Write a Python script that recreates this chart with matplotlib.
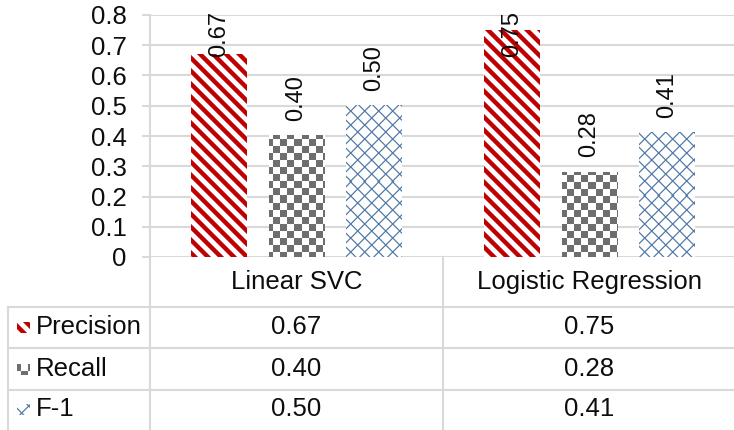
import numpy as np
import matplotlib
matplotlib.use("Agg")
import matplotlib.pyplot as plt
from matplotlib.lines import Line2D
from matplotlib.transforms import blended_transform_factory

# ---- data ----
models = ["Linear SVC", "Logistic Regression"]
metrics = ["Precision", "Recall", "F-1"]
precision = [0.67, 0.75]
recall = [0.40, 0.28]
f1 = [0.50, 0.41]
y_ticks = [0, 0.1, 0.2, 0.3, 0.4, 0.5, 0.6, 0.7, 0.8]
y_tick_labels = ["0", "0.1", "0.2", "0.3", "0.4", "0.5", "0.6", "0.7", "0.8"]

series = [precision, recall, f1]
pattern_kinds = ["stripe", "checker", "cross"]
pattern_colors = ["#C00000", "#6E6E6E", "#4F7AA8"]

plt.rcParams["font.family"] = ["Liberation Sans", "DejaVu Sans"]
TEXT = "#0D0D0D"
GRID = "#D9D9D9"

W, H = 734, 430
DPI = 100
fig = plt.figure(figsize=(W / DPI, H / DPI), dpi=DPI)
fig.patch.set_facecolor("white")

ax_left, ax_top, ax_bottom, ax_right = 150, 15, 257, 736
ax = fig.add_axes([ax_left / W, 1 - ax_bottom / H,
                   (ax_right - ax_left) / W, (ax_bottom - ax_top) / H])
ax.set_xlim(-0.5, 1.5)
ax.set_ylim(0, 0.8)
ax.set_facecolor("white")
for s in ax.spines.values():
    s.set_visible(False)

ax.set_yticks(y_ticks)
ax.set_yticklabels(y_tick_labels)
ax.yaxis.grid(True, color=GRID, linewidth=1.5)
ax.set_axisbelow(True)
ax.tick_params(axis="y", length=6, width=1.5, color=GRID, pad=11,
               labelsize=18.5, labelcolor=TEXT)
ax.set_xticks([])


def pattern(kind, color, x0, y0, w, h, ss=4):
    """RGB tile of a fill pattern for the pixel box (x0, y0, w, h), y from top."""
    xs = x0 + (np.arange(w * ss) + 0.5) / ss
    ys = y0 + (np.arange(h * ss) + 0.5) / ss
    X, Y = np.meshgrid(xs, ys)
    if kind == "stripe":
        P = 13.0
        m = ((X - Y) % P) < P * 0.47
    elif kind == "checker":
        c = 7.0
        m = ((np.floor(X / c) + np.floor(Y / c)) % 2) == 0
    else:
        P = 14.0
        lw = 1.7
        m = (((X + Y) % P) < lw) | (((X - Y) % P) < lw)
    cov = m.reshape(h, ss, w, ss).mean(axis=(1, 3))
    rgb = np.array(matplotlib.colors.to_rgb(color))
    img = 1 - cov[..., None] * (1 - rgb[None, None, :])
    return img


fig.canvas.draw()
width = 0.19
offsets = [-0.265, 0.0, 0.265]
xpos = np.arange(len(models))

for i, (vals, kind, col) in enumerate(zip(series, pattern_kinds, pattern_colors)):
    bars = ax.bar(xpos + offsets[i], vals, width, color="white",
                  edgecolor="none", zorder=2)
    for b, v in zip(bars, vals):
        xl, xr = b.get_x(), b.get_x() + b.get_width()
        (px0, py0), (px1, py1) = ax.transData.transform([(xl, v), (xr, 0)])
        x0, x1 = int(round(px0)), int(round(px1))
        yt, yb = int(round(H - py0)), int(round(H - py1))
        img = pattern(kind, col, x0, yt, x1 - x0, yb - yt)
        ax.imshow(img, extent=(xl, xr, 0, v), aspect="auto",
                  interpolation="nearest", origin="upper", zorder=2.5)
        ax.text(b.get_x() + b.get_width() / 2, min(v + 0.05, 0.66),
                f"{v:.2f}", rotation=90, ha="center", va="bottom",
                fontsize=17, color=TEXT, zorder=4)

ax.set_xlim(-0.5, 1.5)
ax.set_ylim(0, 0.8)


# ---- data table under the axis ----
def fx(px):
    return px / W


def fy(py):
    return 1 - py / H


def hline(y, x0, x1):
    fig.add_artist(Line2D([fx(x0), fx(x1)], [fy(y), fy(y)], color=GRID,
                          linewidth=1.5, transform=fig.transFigure))


def vline(x, y0, y1):
    fig.add_artist(Line2D([fx(x), fx(x)], [fy(y0), fy(y1)], color=GRID,
                          linewidth=1.5, transform=fig.transFigure))


vline(150, 15, 430)
vline(443, 257, 430)
vline(8, 307, 430)
for y in (307, 348, 390):
    hline(y, 8, 734)

trans = blended_transform_factory(ax.transData, fig.transFigure)
for j, m in enumerate(models):
    ax.text(j, fy(282), m, transform=trans, ha="center", va="center",
            fontsize=18.5, color=TEXT, clip_on=False)

row_centers = [327, 369, 409]
for i, (name, vals, kind, col) in enumerate(zip(metrics, series,
                                                pattern_kinds, pattern_colors)):
    yc = row_centers[i]
    fig.text(fx(36), fy(yc), name, ha="left", va="center",
             fontsize=18.5, color=TEXT)
    sw, sh = 13, 11
    sx, sy = 17, yc - sh // 2
    key = pattern(kind, col, sx, sy, sw, sh)
    fig.figimage(key, xo=sx, yo=H - sy - sh, origin="upper", zorder=3)
    for j, v in enumerate(vals):
        ax.text(j, fy(yc), f"{v:.2f}", transform=trans, ha="center",
                va="center", fontsize=18.5, color=TEXT, clip_on=False)

fig.savefig("out.png", dpi=DPI, facecolor="white")
